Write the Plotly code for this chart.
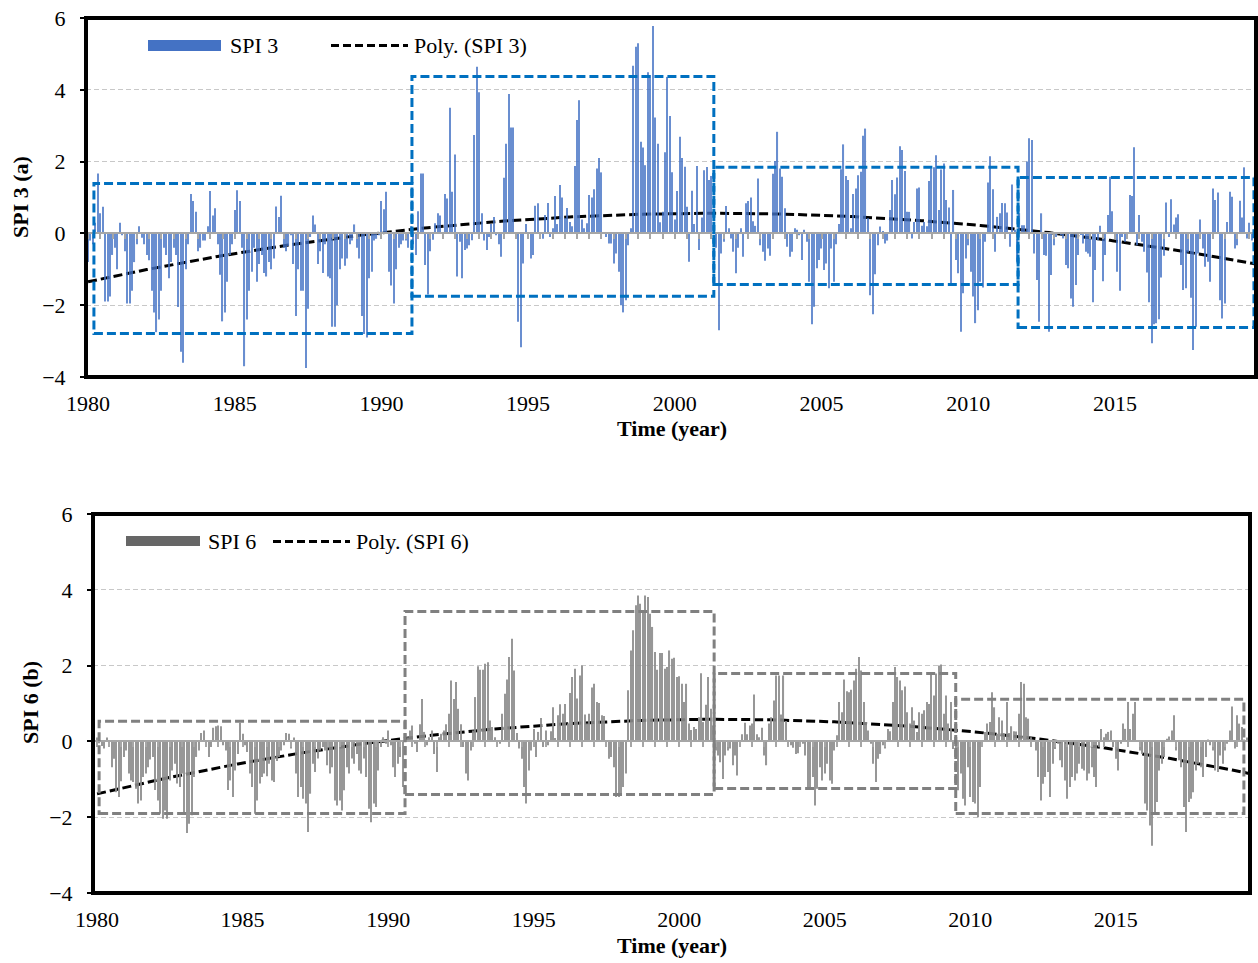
import numpy as np
import plotly.graph_objects as go

# ---------------- data (monthly values, Jan 1980 - Dec 2019) ----------------
spi3 = [
    -0.8, -0.2, -0.3, 0.3, 1.67, 0.56, 0.74, -1.9, -1.9, -1.76, -0.6, -0.4,      # 1980
    -1.0, 0.3, -0.05, -0.5, -1.95, -1.95, -1.6, -0.8, -0.3, 0.2, -0.12, -0.3,    # 1981
    -0.6, -0.75, -1.6, -2.2, -2.75, -2.4, -1.6, -0.4, -0.6, -1.25, -0.8, -0.4,   # 1982
    -0.6, -2.05, -3.3, -3.6, -1.0, -0.3, 1.1, 0.9, 0.6, -0.5, -0.4, -0.2,        # 1983
    -0.2, 0.2, 1.18, 0.5, 0.7, -0.3, -1.15, -2.45, -2.2, -1.35, -0.6, -0.3,      # 1984
    0.65, 1.2, 0.9, -0.4, -3.7, -2.4, -1.6, -1.07, -0.4, -1.35, -0.85, -0.6,     # 1985
    -1.1, -1.2, -0.8, -1.0, -0.7, 0.75, 0.46, 1.05, -0.4, -0.5, -0.35, -0.05,    # 1986
    -0.85, -2.3, -1.0, -1.6, -1.6, -3.75, -2.1, -0.1, 0.5, 0.25, -0.85, -0.5,    # 1987
    -1.1, -0.3, -1.2, -1.25, -2.6, -2.6, -2.0, -1.0, -0.7, -0.9, -0.7, -0.3,     # 1988
    -0.2, 0.25, -0.4, -0.7, -2.3, -2.8, -2.9, -1.25, -1.07, -0.2, -0.15, -0.05,  # 1989
    0.9, 0.67, 1.16, -1.07, -1.45, -1.95, -1.0, -0.4, -0.3, -0.2, -0.2, -0.4,    # 1990
    0.2, -0.3, -0.6, 0.62, 1.67, 1.67, -0.88, -1.7, -0.5, -0.18, 0.28, 0.56,     # 1991
    0.5, -0.14, 1.1, 0.97, 3.5, 1.16, 2.2, -1.2, -0.23, -1.25, -0.46, -0.42,     # 1992
    -0.33, -0.19, 2.74, 4.64, 3.93, 0.56, -0.2, -0.46, -0.1, 0.26, 0.46, -0.05,  # 1993
    -0.3, -0.65, 1.55, 2.5, 3.88, 2.95, 2.95, -0.05, -2.46, -3.17, -0.84, 0.26,  # 1994
    0.02, -0.7, -0.6, 0.77, 0.84, -0.1, -0.15, 0.51, 0.85, -0.1, 0.14, 1.04,     # 1995
    0.26, 1.35, 1.0, 0.42, 0.71, 0.32, 0.2, 1.88, 3.16, 3.71, 0.39, 0.14,        # 1996
    0.28, 1.07, 1.0, 1.23, 1.81, 2.1, 1.7, 0.02, -0.1, -0.28, -0.28, -0.84,      # 1997
    -0.56, -1.07, -2.0, -2.2, -1.86, -0.33, 0.14, 4.67, 5.2, 5.3, 2.55, 2.39,    # 1998
    1.9, 4.49, 4.41, 5.78, 3.23, 2.5, 0.31, 0.6, 2.26, 4.36, 3.27, 1.7,          # 1999
    0.39, 1.18, 2.69, 2.1, 1.86, 0.74, -0.79, 1.19, 0.26, 1.88, -0.46, 0.44,     # 2000
    1.76, 1.85, 1.49, 1.6, 0.3, -0.4, -2.7, -0.56, -0.23, 0.76, 0.14, -0.14,     # 2001
    -0.51, -1.11, -0.4, 0.14, -0.65, 0.84, 0.9, 1.0, 0.34, 0.21, 1.53, -0.33,    # 2002
    -0.51, -0.76, -0.42, -0.62, 1.66, 2.02, 2.83, 1.81, 1.58, 0.7, -0.37, -0.65, # 2003
    -0.51, 0.14, 0.1, -0.05, -0.74, 0.1, -0.23, -1.35, -2.53, -2.04, -0.97, -0.74,  # 2004
    -0.42, -1.02, -0.84, -1.53, -0.42, -1.35, -0.3, 0.26, 1.79, 2.48, 1.6, 1.49,    # 2005
    0.14, 1.1, 1.25, 1.62, 1.72, 2.72, 2.92, 0.42, -1.72, -2.25, -1.14, -0.33,      # 2006
    0.19, 0.07, -0.28, -0.2, 0.65, 1.49, 1.09, 1.56, 2.43, 2.32, 1.74, 0.6,         # 2007
    0.6, -0.14, 0.32, 1.25, 1.28, 0.21, 0.32, 0.2, 1.46, 1.81, 1.84, 2.18,          # 2008
    0.65, 1.78, 1.95, 0.93, 0.72, -1.39, 1.21, -0.74, -1.11, -2.74, -1.67, -0.7,    # 2009
    -0.33, -1.07, -1.76, -2.5, -2.14, -1.35, -1.51, -0.23, 1.42, 2.15, 1.23, -0.51, # 2010
    0.46, 0.56, 0.85, 0.84, 0.58, -0.37, 1.36, 0.1, -0.79, 0.56, 0.23, 0.23,        # 2011
    2.0, 2.65, 2.6, -0.56, -1.3, -2.46, 0.56, -0.6, -0.62, -2.74, -1.16, -0.33,     # 2012
    -0.1, 0.02, -0.05, -0.14, -0.88, -0.97, -1.81, -2.04, -1.44, -0.6, -0.02, -0.28,  # 2013
    -0.51, -0.56, -0.65, -1.92, -1.02, -0.19, 0.21, -1.33, -0.6, 0.51, 1.58, 0.62,    # 2014
    -0.14, -1.07, -1.6, -0.1, -0.23, -0.1, 1.07, 1.04, 2.4, -0.33, 0.51, -0.23,       # 2015
    -0.51, -1.09, -1.92, -3.06, -2.53, -2.5, -2.39, -1.23, -0.62, 0.86, -0.1, 0.95,   # 2016
    0.25, 0.44, 0.53, -0.88, -1.58, -1.53, -0.53, -1.79, -3.25, -2.6, -0.56, 0.39,    # 2017
    -0.42, -0.93, -0.79, -1.35, 1.25, 0.93, 1.14, -1.86, -2.37, -1.95, 0.32, 1.16,    # 2018
    1.02, -0.42, -0.33, 0.91, 0.44, 1.84, -0.14, 0.3, -0.2, 0.1, -0.3, 0.2,           # 2019
]

spi6 = [
    0.1, -0.05, -0.12, -0.19, 0.1, -0.15, -0.68, -0.46, -1.34, -1.47, -1.05, -0.41,    # 1980
    -0.24, -0.85, -1.03, -1.07, -1.25, -1.64, -1.56, -0.94, -0.85, -0.68, -0.48, -0.41, # 1981
    -1.28, -1.56, -1.91, -2.04, -1.82, -2.04, -1.03, -0.77, -0.59, -1.11, -1.2, -0.85,  # 1982
    -1.91, -2.42, -2.17, -1.95, -0.94, -0.41, -0.24, 0.22, 0.29, -0.15, -0.41, -0.15,   # 1983
    0.36, 0.4, 0.42, 0.4, -0.1, -0.24, -1.28, -1.03, -1.47, -0.77, -0.33, 0.49,         # 1984
    0.2, -0.1, -0.28, -0.85, -1.2, -1.91, -1.56, -1.11, -0.94, -0.85, -0.92, -0.59,     # 1985
    -1.03, -1.07, -0.52, -0.41, -0.24, -0.1, 0.22, 0.2, -0.19, 0.1, -0.85, -1.47,       # 1986
    -1.2, -1.51, -1.64, -2.39, -1.38, -0.59, -0.81, -0.45, -0.24, -0.15, -0.24, -0.63,  # 1987
    -0.85, -0.68, -1.56, -1.69, -1.56, -1.82, -1.29, -0.68, -0.85, -0.45, -0.59, -0.33, # 1988
    -0.77, -0.85, -0.45, -0.94, -1.78, -2.13, -1.64, -1.73, -0.77, -0.15, 0.11, -0.06,  # 1989
    0.29, -0.1, -0.68, -0.94, -0.59, -0.41, -1.2, 0.02, 0.11, 0.29, 0.42, -0.06,        # 1990
    -0.28, 0.45, 1.12, 0.25, -0.1, 0.11, 0.29, -0.33, -0.81, 0.11, 0.2, 0.29,           # 1991
    0.45, 0.73, 1.61, 1.12, 1.57, 0.86, 0.45, -0.15, -0.85, -1.03, -0.24, 0.29,         # 1992
    1.17, 1.98, 1.89, 1.89, 2.05, 2.09, 0.55, 0.38, 0.11, -0.1, -0.06, 0.73,            # 1993
    1.26, 1.63, 2.23, 2.71, 1.87, 0.22, -0.19, -0.46, -1.2, -1.64, -0.77, -0.24,        # 1994
    0.33, -0.41, 0.25, 0.62, -0.15, 0.29, -0.1, 0.27, 0.9, 0.09, 0.69, 0.98,            # 1995
    0.73, 0.99, 0.47, 1.28, 1.7, 1.92, 1.13, 1.74, 2.0, 0.71, 0.47, 0.73,               # 1996
    1.42, 1.52, 1.04, 1.01, 0.69, 0.67, 0.02, -0.46, -0.41, -0.68, -1.47, -1.47,        # 1997
    -1.42, -1.2, -0.85, 1.35, 2.4, 2.93, 3.59, 3.85, 3.63, 3.46, 3.85, 3.81,            # 1998
    3.37, 3.02, 2.36, 1.89, 2.33, 2.33, 1.92, 1.96, 2.4, 2.18, 2.21, 1.7,               # 1999
    1.72, 1.52, 1.04, 1.52, 0.47, 0.3, 0.38, 0.33, 0.64, 1.8, 0.51, 0.97,               # 2000
    1.7, 0.86, 0.42, -0.24, -0.37, -0.55, -0.99, -0.37, -0.24, -0.19, -0.63, -0.37,     # 2001
    -0.9, -0.15, 0.19, 0.49, 0.19, 0.42, 0.47, 1.24, 0.19, 0.11, 0.36, -0.37,           # 2002
    -0.63, 0.47, 0.64, 1.08, 1.74, 1.74, 0.71, 1.74, 0.54, -0.06, -0.1, -0.17,          # 2003
    -0.33, -0.31, -0.06, -0.06, -0.37, -1.2, -1.25, -0.94, -1.69, -1.25, -0.68, -1.03,  # 2004
    -0.85, -0.59, -1.03, -1.12, -0.24, 0.16, 1.04, 0.77, 1.63, 1.32, 1.3, 1.36,         # 2005
    1.61, 1.92, 2.23, 1.87, 1.04, 0.51, 0.29, -0.06, -0.59, -1.07, -0.46, -0.33,        # 2006
    -0.1, -0.19, 0.33, 0.27, 1.04, 1.96, 1.7, 1.61, 1.35, 1.45, 0.77, 0.47,             # 2007
    0.9, 0.55, 0.25, 0.77, 0.73, 0.82, 1.04, 0.99, 1.79, 1.21, 1.79, 2.0,               # 2008
    2.03, 0.73, 1.21, 0.47, 1.04, -0.2, -0.33, -1.29, -0.85, -1.51, -1.69, -0.68,       # 2009
    -1.47, -1.6, -1.64, -2.0, -1.2, -0.06, 0.25, 0.47, 0.51, 1.3, 0.9, 0.2,             # 2010
    0.64, 0.55, 0.2, 1.04, 0.22, 0.4, 0.27, 0.26, 0.73, 1.57, 1.52, 0.64,               # 2011
    0.6, 0.11, 0.04, -0.24, -0.94, -1.56, -1.12, -0.94, -0.81, -1.47, -0.59, -0.2,      # 2012
    -0.06, -0.5, -0.68, -1.03, -1.51, -1.2, -0.94, -1.03, -0.85, -0.59, -0.72, -0.77,   # 2013
    -1.03, -0.85, -0.68, -0.94, -1.2, -0.15, 0.33, 0.11, 0.2, 0.25, 0.29, -0.15,        # 2014
    -0.46, -0.77, -0.06, 0.47, 0.33, 1.04, 0.33, 0.73, 1.04, 0.03, -0.24, -0.33,        # 2015
    -1.64, -1.82, -2.22, -2.75, -1.86, -1.6, -0.77, -0.59, -0.41, 0.07, 0.13, 0.29,     # 2016
    0.69, -0.24, -0.5, -0.68, -1.73, -2.39, -1.6, -1.51, -1.34, -0.77, -0.59, -0.68,    # 2017
    -0.94, -0.41, 0.05, -0.1, -0.24, -0.77, -0.81, -0.37, -0.59, -0.24, -0.06, 0.29,    # 2018
    0.92, -0.19, 0.69, 0.47, 0.38, 0.05, 0.1, -0.1, 0.1, -0.2, 0.1, 0.1,                # 2019
]

start_year = 1980
tick_years = [1980, 1985, 1990, 1995, 2000, 2005, 2010, 2015]
y_ticks = [-4, -2, 0, 2, 4, 6]

# highlighted periods: (start year, end year, lower SPI, upper SPI)
spi3_periods = [(1980.2, 1991.04, -2.79, 1.39), (1991.04, 2001.33, -1.75, 4.37),
                (2001.33, 2011.7, -1.42, 1.84), (2011.7, 2019.74, -2.62, 1.56)]
spi6_periods = [(1980.07, 1990.58, -1.9, 0.53), (1990.58, 2001.2, -1.4, 3.43),
                (2001.2, 2009.5, -1.24, 1.79), (2009.5, 2019.4, -1.9, 1.11)]

# ---------------- helpers ----------------
W, H = 1258, 963
FONT = "Liberation Serif"


def pxx(x):
    return x / W


def pxy(y):
    return 1 - y / H


t = start_year + np.arange(len(spi3)) / 12.0


def poly_trend(values):
    c = np.polyfit(t - start_year, np.array(values), 2)
    return np.polyval(c, t - start_year)


# layout geometry (pixels)
top_x = (86, 1256)
top_y = (18, 377)       # y=6 .. y=-4
bot_x = (93, 1250)
bot_y = (514, 893)

top_xrange = [1979.93, 2019.81]
bot_xrange = [1979.86, 2019.61]

top_ydom = [pxy(top_y[1]), pxy(top_y[0])]
bot_ydom = [pxy(bot_y[1]), pxy(bot_y[0])]
zero_frac = 0.4  # position of 0 within [-4, 6]

fig = go.Figure()

fig.add_trace(go.Bar(x=t, y=spi3, width=0.45 / 12,
                     marker=dict(color="#4472C4", opacity=0.8, line=dict(width=0)),
                     xaxis="x3", yaxis="y", showlegend=False, hoverinfo="x+y"))
fig.add_trace(go.Scatter(x=t, y=poly_trend(spi3), mode="lines",
                         line=dict(color="black", width=3, dash="9px,4px"),
                         xaxis="x", yaxis="y", showlegend=False))
fig.add_trace(go.Bar(x=t, y=spi6, width=0.45 / 12,
                     marker=dict(color="#8C8C8C", opacity=0.9, line=dict(width=0)),
                     xaxis="x4", yaxis="y2", showlegend=False, hoverinfo="x+y"))
fig.add_trace(go.Scatter(x=t, y=poly_trend(spi6), mode="lines",
                         line=dict(color="black", width=3, dash="9px,4px"),
                         xaxis="x2", yaxis="y2", showlegend=False))

tickfont = dict(family=FONT, size=22, color="black")

common_x = dict(tickmode="array", tickvals=tick_years, ticktext=[str(v) for v in tick_years],
                tickfont=tickfont, showgrid=False, zeroline=False, showline=False, ticks="",
                ticklabelstandoff=11, automargin=False)
common_y = dict(range=[-4, 6], tickmode="array", tickvals=y_ticks, tickfont=tickfont,
                showgrid=True, gridcolor="#C8C8C8", gridwidth=1, griddash="5px,3px",
                zeroline=False, showline=False, ticks="outside", ticklen=5, tickcolor="black",
                tickwidth=1.5, ticklabelstandoff=10, automargin=False)
zero_axis = dict(showticklabels=False, ticks="outside", tickmode="linear", tick0=start_year,
                 dtick=5 / 12, ticklen=5, tickwidth=1.5, tickcolor="#A6A6A6",
                 showline=True, linecolor="#A6A6A6", linewidth=2, showgrid=False, zeroline=False,
                 anchor="free", side="bottom", automargin=False)

fig.update_layout(
    width=W, height=H,
    margin=dict(l=0, r=0, t=0, b=0, autoexpand=False),
    paper_bgcolor="white", plot_bgcolor="white",
    barmode="overlay",
    showlegend=False,
    xaxis=dict(domain=[pxx(top_x[0]), pxx(top_x[1])], range=top_xrange, anchor="y", **common_x),
    yaxis=dict(domain=top_ydom, anchor="x", **common_y),
    xaxis2=dict(domain=[pxx(bot_x[0]), pxx(bot_x[1])], range=bot_xrange, anchor="y2", **common_x),
    yaxis2=dict(domain=bot_ydom, anchor="x2", **common_y),
    xaxis3=dict(overlaying="x", matches="x",
                position=top_ydom[0] + zero_frac * (top_ydom[1] - top_ydom[0]), **zero_axis),
    xaxis4=dict(overlaying="x2", matches="x2",
                position=bot_ydom[0] + zero_frac * (bot_ydom[1] - bot_ydom[0]), **zero_axis),
)

shapes = []
# period boxes
for (x0, x1, y0, y1) in spi3_periods:
    shapes.append(dict(type="rect", xref="x", yref="y", x0=x0, x1=x1, y0=y0, y1=y1,
                       line=dict(color="#0070C0", width=3, dash="9px,4px"), layer="above"))
for (x0, x1, y0, y1) in spi6_periods:
    shapes.append(dict(type="rect", xref="x2", yref="y2", x0=x0, x1=x1, y0=y0, y1=y1,
                       line=dict(color="#808080", width=3, dash="9px,4px"), layer="above"))
# thick frames
shapes.append(dict(type="rect", xref="x domain", yref="y domain", x0=0, x1=1, y0=0, y1=1,
                   line=dict(color="black", width=4), layer="above"))
shapes.append(dict(type="rect", xref="x2 domain", yref="y2 domain", x0=0, x1=1, y0=0, y1=1,
                   line=dict(color="black", width=4), layer="above"))

# manual legends
shapes.append(dict(type="rect", xref="paper", yref="paper", x0=pxx(148), x1=pxx(221),
                   y0=pxy(51), y1=pxy(40), fillcolor="#4472C4", line=dict(width=0)))
shapes.append(dict(type="line", xref="paper", yref="paper", x0=pxx(331), x1=pxx(408),
                   y0=pxy(45.5), y1=pxy(45.5), line=dict(color="black", width=3, dash="8px,4px")))
shapes.append(dict(type="rect", xref="paper", yref="paper", x0=pxx(126), x1=pxx(200),
                   y0=pxy(546), y1=pxy(536), fillcolor="#666666", line=dict(width=0)))
shapes.append(dict(type="line", xref="paper", yref="paper", x0=pxx(273), x1=pxx(350),
                   y0=pxy(541.5), y1=pxy(541.5), line=dict(color="black", width=3, dash="8px,4px")))

annotations = []


def text(x, y, s, size=22, bold=False, angle=0, xanchor="center"):
    annotations.append(dict(xref="paper", yref="paper", x=pxx(x), y=pxy(y),
                            text=("<b>%s</b>" % s) if bold else s, showarrow=False,
                            textangle=angle, xanchor=xanchor, yanchor="middle",
                            font=dict(family=FONT, size=size, color="black")))


text(228, 45, "SPI 3", xanchor="left")
text(412, 45, "Poly. (SPI 3)", xanchor="left")
text(206, 541, "SPI 6", xanchor="left")
text(354, 541, "Poly. (SPI 6)", xanchor="left")
text(20, 197, "SPI 3 (a)", bold=True, angle=-90)
text(30, 703, "SPI 6 (b)", bold=True, angle=-90)
text(672, 429, "Time (year)", bold=True)
text(672, 945, "Time (year)", bold=True)

fig.update_layout(shapes=shapes, annotations=annotations)

fig.write_html("out.html")
